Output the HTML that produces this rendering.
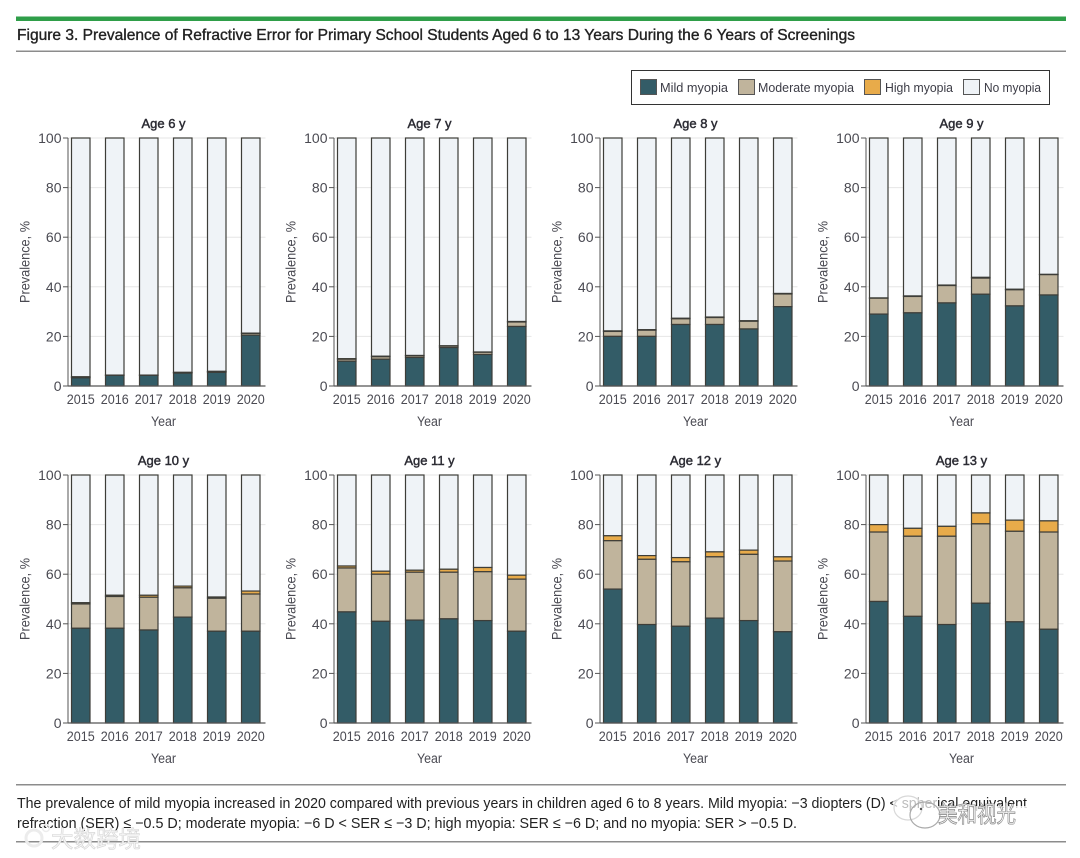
<!DOCTYPE html>
<html lang="en">
<head>
<meta charset="utf-8">
<title>Figure 3. Prevalence of Refractive Error</title>
<style>
html,body{margin:0;padding:0;background:#fff;}
body{width:1080px;height:858px;overflow:hidden;}
svg{display:block;font-family:"Liberation Sans","Noto Sans CJK SC",sans-serif;}
</style>
</head>
<body>
<svg id="fig" width="1080" height="858" viewBox="0 0 1080 858">
  <rect x="16" y="16.5" width="1050" height="4.5" fill="#2f9e49"/>
  <text x="17" y="40" font-size="15.5" fill="#222" stroke="#222" stroke-width="0.35" textLength="838" lengthAdjust="spacingAndGlyphs">Figure 3. Prevalence of Refractive Error for Primary School Students Aged 6 to 13 Years During the 6 Years of Screenings</text>
  <rect x="16" y="50.5" width="1050" height="1.5" fill="#8c8c8c"/>

  <g>
    <rect x="631.5" y="70.5" width="418" height="34" fill="#fff" stroke="#333" stroke-width="1"/>
    <rect x="640.5" y="79.5" width="16" height="15" fill="#335c67" stroke="#555"/>
    <text x="660" y="92" font-size="13" fill="#3c3c46" textLength="68" lengthAdjust="spacingAndGlyphs">Mild myopia</text>
    <rect x="738.5" y="79.5" width="16" height="15" fill="#c0b49c" stroke="#555"/>
    <text x="758" y="92" font-size="13" fill="#3c3c46" textLength="96" lengthAdjust="spacingAndGlyphs">Moderate myopia</text>
    <rect x="864.5" y="79.5" width="16" height="15" fill="#e8ab4a" stroke="#555"/>
    <text x="885" y="92" font-size="13" fill="#3c3c46" textLength="68" lengthAdjust="spacingAndGlyphs">High myopia</text>
    <rect x="963.5" y="79.5" width="16" height="15" fill="#eff3f7" stroke="#555"/>
    <text x="984" y="92" font-size="13" fill="#3c3c46" textLength="57" lengthAdjust="spacingAndGlyphs">No myopia</text>
  </g>

  <g id="panels"></g>

  <rect x="16" y="784" width="1050" height="1.5" fill="#8c8c8c"/>
  <text x="17" y="808" font-size="15" fill="#222" textLength="1010" lengthAdjust="spacingAndGlyphs">The prevalence of mild myopia increased in 2020 compared with previous years in children aged 6 to 8 years. Mild myopia: −3 diopters (D) &lt; spherical equivalent</text>
  <text x="17" y="828" font-size="15" fill="#222" textLength="780" lengthAdjust="spacingAndGlyphs">refraction (SER) ≤ −0.5 D; moderate myopia: −6 D &lt; SER ≤ −3 D; high myopia: SER ≤ −6 D; and no myopia: SER &gt; −0.5 D.</text>
  <rect x="16" y="841" width="1050" height="1.5" fill="#8c8c8c"/>

  <g>
    <rect x="893" y="796" width="45" height="20" fill="#fff" opacity="0.7"/>
    <rect x="938" y="806" width="92" height="8" fill="#fff" opacity="0.8"/>
    <ellipse cx="908" cy="808" rx="14" ry="12" fill="none" stroke="#d8d8d8" stroke-width="1.2"/>
    <ellipse cx="925" cy="815" rx="15" ry="13" fill="none" stroke="#aaa" stroke-width="1.2"/>
    <circle cx="921" cy="809" r="1.2" fill="#555"/>
    <text x="938" y="822" font-size="23" fill="#fff" stroke="#8d8d8d" stroke-width="0.8" textLength="78" lengthAdjust="spacingAndGlyphs" font-family="'Noto Sans CJK SC',sans-serif">美和视光</text>
  </g>
  <g>
    <circle cx="34" cy="838" r="8" fill="none" stroke="#ececec" stroke-width="3"/>
    <circle cx="46" cy="828" r="3.5" fill="none" stroke="#ececec" stroke-width="1.5"/>
    <text x="51" y="847" font-size="23" fill="#f6f6f6" stroke="#d4d4d4" stroke-width="0.6" textLength="90" lengthAdjust="spacingAndGlyphs" font-family="'Noto Sans CJK SC',sans-serif">大数跨境</text>
  </g>
</svg>

<script>
const panelTitles = ['Age 6 y','Age 7 y','Age 8 y','Age 9 y','Age 10 y','Age 11 y','Age 12 y','Age 13 y'];
const categories = ['2015','2016','2017','2018','2019','2020'];
const yTicks = [0,20,40,60,80,100];
const yAxisLabel = 'Prevalence, %';
const xAxisLabel = 'Year';

const mild = [
  [3.3,4.3,4.3,5.2,5.5,20.5],
  [10,10.8,11.5,15.5,12.7,24],
  [20,20,24.8,24.8,23,32],
  [29,29.5,33.5,37,32.3,36.7],
  [38.2,38.2,37.5,42.7,37,37],
  [44.8,41,41.5,42,41.3,37],
  [54,39.7,39,42.3,41.3,36.8],
  [49,43,39.7,48.3,40.8,37.8]
];
const moderate = [
  [0.3,0.1,0.1,0.2,0.3,0.7],
  [0.8,1,0.7,0.6,0.9,1.8],
  [2,2.5,2.3,2.8,3.1,5.1],
  [6.4,6.6,7,6.5,6.5,8.2],
  [9.8,12.8,13.2,11.8,13.3,15],
  [17.7,19,19.3,18.8,19.7,21],
  [19.5,26.3,26,24.7,26.7,28.5],
  [28,32.3,35.6,32,36.5,39.2]
];
const high = [
  [0.1,0,0,0.1,0.1,0.1],
  [0.2,0.2,0.1,0.1,0.1,0.2],
  [0.2,0.2,0.2,0.2,0.2,0.2],
  [0.1,0.2,0.2,0.3,0.2,0.1],
  [0.5,0.5,0.8,0.7,0.5,1.2],
  [0.8,1.2,0.8,1.2,1.7,1.6],
  [2,1.5,1.7,2,1.7,1.7],
  [3,3.2,4,4.4,4.5,4.5]
];

const SVGNS = 'http://www.w3.org/2000/svg';
const root = document.getElementById('panels');
const colWidth = 266;
const firstBarX = 71.5;
const barWidth = 18.5;
const barStep = 34;
const rowBottoms = [386, 723];
const plotHeight = 248;

function make(tag, attrs, parent, text) {
  const el = document.createElementNS(SVGNS, tag);
  for (const k in attrs) el.setAttribute(k, attrs[k]);
  if (text !== undefined) el.textContent = text;
  parent.appendChild(el);
  return el;
}
function yScale(value, bottom) { return bottom - value / 100 * plotHeight; }
function xBand(index, left) { return left + index * barStep; }

panelTitles.forEach(function (title, p) {
  const col = p % 4;
  const row = Math.floor(p / 4);
  const left = firstBarX + col * colWidth;
  const bottom = rowBottoms[row];
  const axisX = left - 3.5;
  const rightX = left + 194;

  const g = make('g', {}, root);
  
  

  const heading = make('text', {x: left + 92, y: bottom - 258, 'text-anchor': 'middle', 'font-size': 13, fill: '#2c2c34', stroke: '#2c2c34', 'stroke-width': 0.45}, g, title);
  
  

  yTicks.forEach(function (t) {
    const y = yScale(t, bottom);
    if (t > 0) {
      const grid = make('line', {x1: axisX, x2: rightX, y1: y, y2: y, stroke: '#e6e6e6', 'stroke-width': 1}, g);
      
      
    }
    const tick = make('line', {x1: axisX - 5, x2: axisX, y1: y, y2: y, stroke: '#555', 'stroke-width': 1}, g);
    
    
    const label = make('text', {x: left - 10, y: y + 5, 'text-anchor': 'end', 'font-size': 14, fill: '#4a4a52'}, g, String(t));
    
    
  });

  categories.forEach(function (cat, i) {
    const x = xBand(i, left);
    const v1 = mild[p][i];
    const v2 = v1 + moderate[p][i];
    const v3 = v2 + high[p][i];
    const segments = [
      ['bar-no-myopia', v3, 100, '#eff3f7'],
      ['bar-high-myopia', v2, v3, '#e8ab4a'],
      ['bar-moderate-myopia', v1, v2, '#c0b49c'],
      ['bar-mild-myopia', 0, v1, '#335c67']
    ];
    segments.forEach(function (s) {
      if (s[2] - s[1] <= 0) return;
      const yTop = yScale(s[2], bottom);
      const yBot = yScale(s[1], bottom);
      const rect = make('rect', {x: x, y: yTop, width: barWidth, height: yBot - yTop, fill: s[3], stroke: '#3d3d38', 'stroke-width': 1.2}, g);
      
      
    });
    const xl = make('text', {x: x + barWidth / 2, y: bottom + 18, 'text-anchor': 'middle', 'font-size': 14, fill: '#4a4a52', textLength: 28, lengthAdjust: 'spacingAndGlyphs'}, g, cat);
    
    
  });

  const yAxis = make('line', {x1: axisX, x2: axisX, y1: bottom - plotHeight, y2: bottom, stroke: '#555', 'stroke-width': 1}, g);
  
  
  const xAxis = make('line', {x1: axisX, x2: rightX, y1: bottom, y2: bottom, stroke: '#555', 'stroke-width': 1.2}, g);
  
  

  const xTitle = make('text', {x: left + 92, y: bottom + 40, 'text-anchor': 'middle', 'font-size': 13.5, fill: '#4a4a52', textLength: 25, lengthAdjust: 'spacingAndGlyphs'}, g, xAxisLabel);
  
  

  const yx = left - 42;
  const yy = bottom - 124;
  const yTitle = make('text', {x: yx, y: yy, transform: 'rotate(-90 ' + yx + ' ' + yy + ')', 'text-anchor': 'middle', 'font-size': 13.5, fill: '#4a4a52', textLength: 82, lengthAdjust: 'spacingAndGlyphs'}, g, yAxisLabel);
  
  
});
</script>
</body>
</html>
